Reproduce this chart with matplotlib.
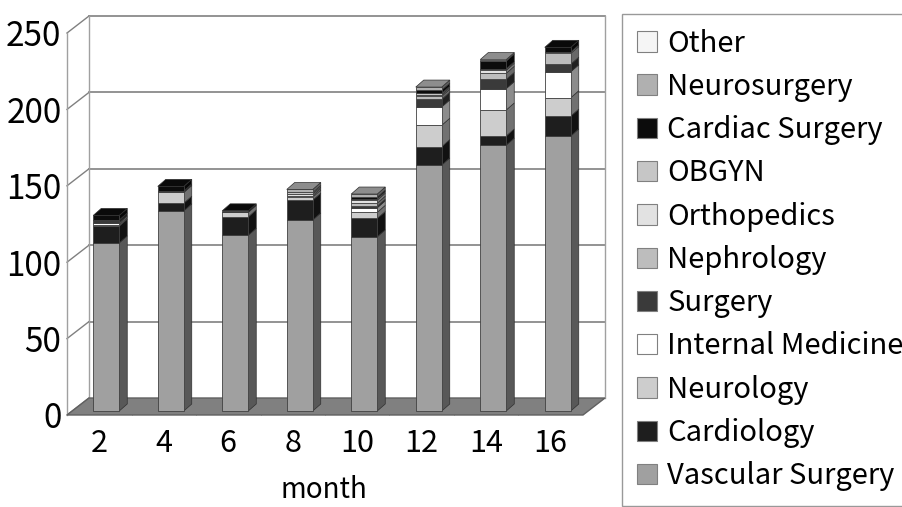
import matplotlib.pyplot as plt
from matplotlib.patches import Polygon, Rectangle, Patch
import numpy as np

plt.rcParams['font.family'] = ['Noto Sans CJK JP', 'DejaVu Sans']

months = ['2', '4', '6', '8', '10', '12', '14', '16']
departments = ['Vascular Surgery', 'Cardiology', 'Neurology', 'Internal Medicine',
               'Surgery', 'Nephrology', 'Orthopedics', 'OBGYN', 'Cardiac Surgery',
               'Neurosurgery', 'Other']
colors = ['#a0a0a0', '#1e1e1e', '#cdcdcd', '#ffffff', '#3a3a3a', '#bdbdbd',
          '#e2e2e2', '#c6c6c6', '#0c0c0c', '#b0b0b0', '#f5f5f5']

vascular = [110, 131, 115, 125, 114, 161, 174, 180]
cardiology = [11, 5, 12, 13, 12, 12, 6, 13]
neurology = [1, 7, 3, 2, 4, 14, 17, 12]
internal_med = [1, 0, 0, 1, 3, 12, 14, 17]
surgery = [2, 1, 0, 0, 1, 5, 6, 5]
nephrology = [0, 0, 0, 0, 2, 2, 4, 7]
orthopedics = [0, 0, 0, 1, 2, 1, 2, 1]
obgyn = [0, 0, 0, 1, 1, 1, 1, 0]
cardiac_surg = [3, 3, 1, 0, 1, 2, 5, 3]
neurosurgery = [0, 0, 0, 2, 2, 2, 1, 0]
other = [0, 0, 0, 0, 0, 0, 0, 0]

series = [vascular, cardiology, neurology, internal_med, surgery, nephrology,
          orthopedics, obgyn, cardiac_surg, neurosurgery, other]
yticks = [0, 50, 100, 150, 200, 250]


def shade(c, f):
    r, g, b = [int(c[i:i + 2], 16) / 255 for i in (1, 3, 5)]
    return (r * f, g * f, b * f)


fig = plt.figure(figsize=(9.03, 5.07), dpi=100)
ax = fig.add_axes([67 / 903, 92 / 507, 516 / 903, 382 / 507])
xmin, xmax = -0.5, 7.5
ax.set_xlim(xmin, xmax)
ax.set_ylim(0, 250)
for s in ax.spines.values():
    s.set_visible(False)

# pixel -> data conversions for the fake 3d look
px_x = 516 / 8
px_y = 382 / 250
bx, by = 22 / px_x, 17 / px_y      # back wall offset
fx, fy = 7 / px_x, 4 / px_y        # bar front offset
dx, dy = 8 / px_x, 7 / px_y        # bar depth
bw = 26 / px_x

grid_c = '#808080'
# back wall + side wall lines
for v in yticks:
    if v > 0:
        ax.plot([xmin + bx, xmax + bx], [v + by, v + by], color=grid_c, lw=1.2,
                clip_on=False, zorder=1)
    ax.plot([xmin, xmin + bx], [v, v + by], color=grid_c, lw=1, clip_on=False, zorder=1)
ax.plot([xmin + bx, xmin + bx], [by, 250 + by], color='#a0a0a0', lw=1, clip_on=False, zorder=1)
ax.plot([xmax + bx, xmax + bx], [by, 250 + by], color='#a0a0a0', lw=1, clip_on=False, zorder=1)
ax.plot([xmin, xmin], [0, 250], color='#a0a0a0', lw=1, clip_on=False, zorder=1)

# floor
ax.add_patch(Polygon([(xmin, 0), (xmax, 0), (xmax + bx, by), (xmin + bx, by)],
                     closed=True, facecolor='#808080', edgecolor='#606060', lw=1,
                     clip_on=False, zorder=2))

# stacked bars
for i in range(len(months)):
    x0 = i - bw / 2 + fx
    base = fy
    top_color = colors[0]
    for k, vals in enumerate(series):
        v = vals[i]
        if v <= 0:
            continue
        c = colors[k]
        ax.add_patch(Polygon([(x0 + bw, base), (x0 + bw + dx, base + dy),
                              (x0 + bw + dx, base + v + dy), (x0 + bw, base + v)],
                             closed=True, facecolor=shade(c, 0.55), edgecolor='#303030',
                             lw=0.5, clip_on=False, zorder=3 + i))
        ax.add_patch(Rectangle((x0, base), bw, v, facecolor=c, edgecolor='#404040',
                               lw=0.6, clip_on=False, zorder=3 + i))
        base += v
        top_color = c
    ax.add_patch(Polygon([(x0, base), (x0 + bw, base), (x0 + bw + dx, base + dy),
                          (x0 + dx, base + dy)], closed=True,
                         facecolor=shade(top_color, 0.8), edgecolor='#303030', lw=0.5,
                         clip_on=False, zorder=3 + i))

ax.set_yticks(yticks)
ax.set_yticklabels([str(v) for v in yticks], fontsize=24)
ax.set_xticks(range(len(months)))
ax.set_xticklabels(months, fontsize=22)
ax.tick_params(axis='both', length=0)
ax.tick_params(axis='y', pad=4)
ax.tick_params(axis='x', pad=9)
ax.set_xticks(np.arange(xmin + 1, xmax, 1), minor=True)
ax.tick_params(axis='x', which='minor', length=4, color=grid_c, direction='in')

fig.text(324 / 903, 1 - 490 / 507, 'month', fontsize=20, ha='center', va='center')

handles = [Patch(facecolor=c, edgecolor='#808080', lw=0.8) for c in colors][::-1]
leg = fig.legend(handles, departments[::-1], loc='upper left',
                 bbox_to_anchor=(622 / 903, 1 - 14 / 507), frameon=True, fancybox=False,
                 edgecolor='#808080', fontsize=21, labelspacing=0.455,
                 handlelength=0.7, handleheight=0.7, handletextpad=0.35,
                 borderpad=0.5, borderaxespad=0)
leg.get_frame().set_linewidth(1)

fig.savefig('out.png', dpi=100)
